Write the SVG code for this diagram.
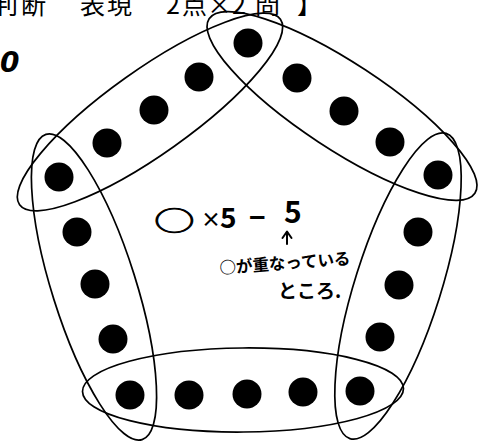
<svg xmlns="http://www.w3.org/2000/svg" width="496" height="445" viewBox="0 0 496 445">
<defs>
<style>
.ring{fill:none;stroke:#000;stroke-width:1.7}
.dot{fill:#000}
.hdr{font-family:"Noto Sans CJK JP","Noto Sans",sans-serif;font-size:25px;fill:#000}
.hw{font-family:"Noto Sans CJK JP","Noto Sans",sans-serif;font-weight:bold;fill:#000}
.arrow{fill:none;stroke:#000;stroke-width:2;stroke-linecap:round;stroke-linejoin:round}
</style>
</defs>
<rect x="0" y="0" width="496" height="445" fill="#fff"/>
<g id="header">
<text class="hdr" y="14" x="-7 21 80 107 166 182 207 232 255 297">判断表現2点×2問】</text>
<text x="0" y="72" font-family="DejaVu Sans, sans-serif" font-weight="bold" font-style="italic" font-size="28">0</text>
</g>
<g id="groups">
<ellipse id="ring-top-left" class="ring" cx="150" cy="112" rx="160" ry="42" transform="rotate(-35.4 150 112)"/>
<ellipse id="ring-top-right" class="ring" cx="342" cy="106" rx="159" ry="43" transform="rotate(33.3 342 106)"/>
<ellipse id="ring-right" class="ring" cx="398" cy="286" rx="160" ry="43" transform="rotate(-72.5 398 286)"/>
<ellipse id="ring-bottom" class="ring" cx="243" cy="390" rx="160.5" ry="42" transform="rotate(-0.5 243 390)"/>
<ellipse id="ring-left" class="ring" cx="94" cy="287" rx="160" ry="42" transform="rotate(72.5 94 287)"/>
</g>
<g id="dot-1"><circle class="dot" cx="248" cy="43" r="14.5"/></g>
<g id="dot-2"><circle class="dot" cx="297" cy="78" r="14.5"/></g>
<g id="dot-3"><circle class="dot" cx="344" cy="111" r="14.5"/></g>
<g id="dot-4"><circle class="dot" cx="390" cy="142" r="14.5"/></g>
<g id="dot-5"><circle class="dot" cx="438" cy="175" r="14.5"/></g>
<g id="dot-6"><circle class="dot" cx="418" cy="232" r="14.5"/></g>
<g id="dot-7"><circle class="dot" cx="399" cy="285" r="14.5"/></g>
<g id="dot-8"><circle class="dot" cx="380" cy="337" r="14.5"/></g>
<g id="dot-9"><circle class="dot" cx="360" cy="391" r="14.5"/></g>
<g id="dot-10"><circle class="dot" cx="303" cy="392" r="14.5"/></g>
<g id="dot-11"><circle class="dot" cx="247" cy="394" r="14.5"/></g>
<g id="dot-12"><circle class="dot" cx="189" cy="395" r="14.5"/></g>
<g id="dot-13"><circle class="dot" cx="130" cy="395" r="14.5"/></g>
<g id="dot-14"><circle class="dot" cx="113" cy="339" r="14.5"/></g>
<g id="dot-15"><circle class="dot" cx="95" cy="284" r="14.5"/></g>
<g id="dot-16"><circle class="dot" cx="77" cy="232" r="14.5"/></g>
<g id="dot-17"><circle class="dot" cx="59" cy="177" r="14.5"/></g>
<g id="dot-18"><circle class="dot" cx="107" cy="143" r="14.5"/></g>
<g id="dot-19"><circle class="dot" cx="154" cy="110" r="14.5"/></g>
<g id="dot-20"><circle class="dot" cx="199" cy="77" r="14.5"/></g>
<g id="note">
<text class="hw" font-size="25" transform="translate(155 230) scale(1.55 1)" stroke="#000" stroke-width="0.8">◯</text>
<text class="hw" font-size="20" x="201" y="227">×</text>
<text class="hw" font-size="28" x="220" y="228">5</text>
<text class="hw" font-size="28" x="249" y="228">−</text>
<text class="hw" font-size="30" x="284" y="223">5</text>
<text class="hw" font-size="16.5" transform="translate(220 274) rotate(-4.3)">○が重なっている</text>
<text class="hw" font-size="19" x="278" y="298">ところ.</text>
</g>
<g id="connectors">
<path class="arrow" d="M287 244 L287 232 M282.5 238 L287 231.5 L291.5 238"/>
</g>
</svg>
